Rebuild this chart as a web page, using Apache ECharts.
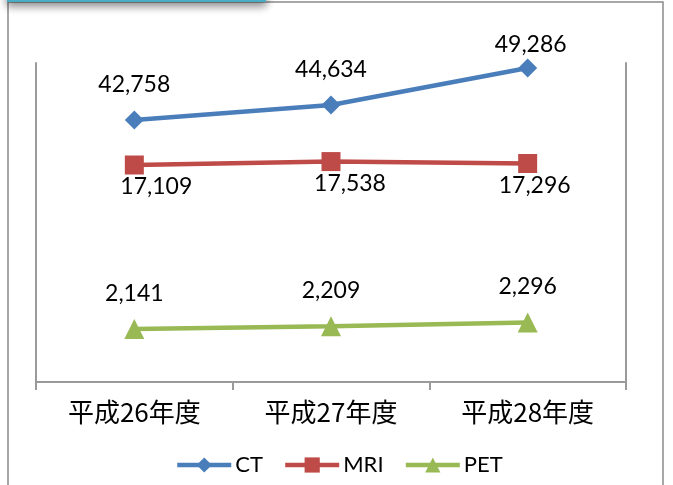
<!DOCTYPE html>
<html>
<head>
<meta charset="utf-8">
<script src="https://cdn.jsdelivr.net/npm/echarts@6/dist/echarts.min.js"></script>
<style>
  html, body { margin: 0; padding: 0; background: #ffffff; }
  #chart { width: 673px; height: 485px; }
</style>
</head>
<body>
<div id="chart"></div>
<script>
// Annual examination counts by modality
const categories = ['平成26年度', '平成27年度', '平成28年度'];
const ctValues  = [42758, 44634, 49286];
const mriValues = [17109, 17538, 17296];
const petValues = [2141, 2209, 2296];

// Each series sits on its own value scale so the three lines stay readable
const ctRange  = { min: 9868,   max: 49914 };
const mriRange = { min: -10133, max: 29913 };
const petRange = { min: 876,    max: 8489 };

// Hand-tuned label nudges [dx, dy] per point
const ctNudge  = [[0, 0], [0, 0], [3, 12]];
const mriNudge = [[22, 0], [19, 0], [7, 0]];

const LABEL_FONT = 'Lato, "Open Sans", sans-serif';
const fmt = v => Number(v).toLocaleString('en-US');

function withNudge(values, nudges) {
  return values.map((v, i) => ({
    value: v,
    label: nudges ? { offset: nudges[i] } : undefined
  }));
}

const chart = echarts.init(document.getElementById('chart'), null, { renderer: 'canvas' });

const axisGray = '#9a9a9a';
const LINE_W = 4.5;

chart.setOption({
  animation: false,
  backgroundColor: '#ffffff',
  grid: { left: 36, right: 47, top: 63, bottom: 103, containLabel: false },
  graphic: [
    // outer frame
    {
      type: 'rect', z: -10,
      shape: { x: 8, y: 2, width: 655, height: 500 },
      style: { fill: '#ffffff', stroke: '#8a8a8a', lineWidth: 1.5 }
    },
    // tab on the top-left edge
    {
      type: 'rect', z: 10,
      shape: { x: 8, y: -20, width: 257, height: 21 },
      style: {
        fill: '#ffffff', stroke: '#4bacc6', lineWidth: 2,
        shadowColor: 'rgba(0,0,0,0.45)', shadowBlur: 8, shadowOffsetY: 4
      }
    }
  ],
  legend: {
    left: 170,
    top: 449,
    itemWidth: 54,
    itemHeight: 19,
    itemGap: 20,
    lineStyle: { width: LINE_W },
    textStyle: { fontFamily: LABEL_FONT, fontSize: 22, color: '#000000', padding: [0, 0, 0, -1] },
    data: ['CT', 'MRI', 'PET']
  },
  xAxis: {
    type: 'category',
    data: categories,
    boundaryGap: true,
    axisLine: { onZero: false, lineStyle: { color: axisGray, width: 2 } },
    axisTick: { show: true, length: 8, lineStyle: { color: axisGray, width: 2 } },
    axisLabel: {
      color: '#000000',
      fontFamily: '"Noto Sans CJK JP", sans-serif',
      fontSize: 26,
      margin: 17
    }
  },
  yAxis: [
    {
      type: 'value', position: 'left', min: ctRange.min, max: ctRange.max,
      axisLine: { show: true, onZero: false, lineStyle: { color: axisGray, width: 2 } },
      axisTick: { show: false }, axisLabel: { show: false }, splitLine: { show: false }
    },
    {
      type: 'value', position: 'right', min: mriRange.min, max: mriRange.max,
      axisLine: { show: true, onZero: false, lineStyle: { color: axisGray, width: 2 } },
      axisTick: { show: false }, axisLabel: { show: false }, splitLine: { show: false }
    },
    {
      type: 'value', show: false, min: petRange.min, max: petRange.max,
      splitLine: { show: false }
    }
  ],
  series: [
    {
      name: 'CT', type: 'line', yAxisIndex: 0,
      data: withNudge(ctValues, ctNudge),
      symbol: 'diamond', symbolSize: 19,
      color: '#4a7ebb',
      lineStyle: { width: LINE_W, color: '#4a7ebb' },
      itemStyle: { color: '#4a7ebb' },
      label: {
        show: true, position: 'top', distance: 14,
        formatter: p => fmt(p.value),
        fontFamily: LABEL_FONT, fontSize: 23, color: '#000000'
      }
    },
    {
      name: 'MRI', type: 'line', yAxisIndex: 1,
      data: withNudge(mriValues, mriNudge),
      symbol: 'rect', symbolSize: 19,
      color: '#be4b48',
      lineStyle: { width: LINE_W, color: '#be4b48' },
      itemStyle: { color: '#be4b48' },
      label: {
        show: true, position: 'bottom', distance: 1,
        formatter: p => fmt(p.value),
        fontFamily: LABEL_FONT, fontSize: 23, color: '#000000'
      }
    },
    {
      name: 'PET', type: 'line', yAxisIndex: 2,
      data: withNudge(petValues, null),
      symbol: 'triangle', symbolSize: 20,
      color: '#98b954',
      lineStyle: { width: LINE_W, color: '#98b954' },
      itemStyle: { color: '#98b954' },
      label: {
        show: true, position: 'top', distance: 14,
        formatter: p => fmt(p.value),
        fontFamily: LABEL_FONT, fontSize: 23, color: '#000000'
      }
    }
  ]
});
</script>
</body>
</html>
